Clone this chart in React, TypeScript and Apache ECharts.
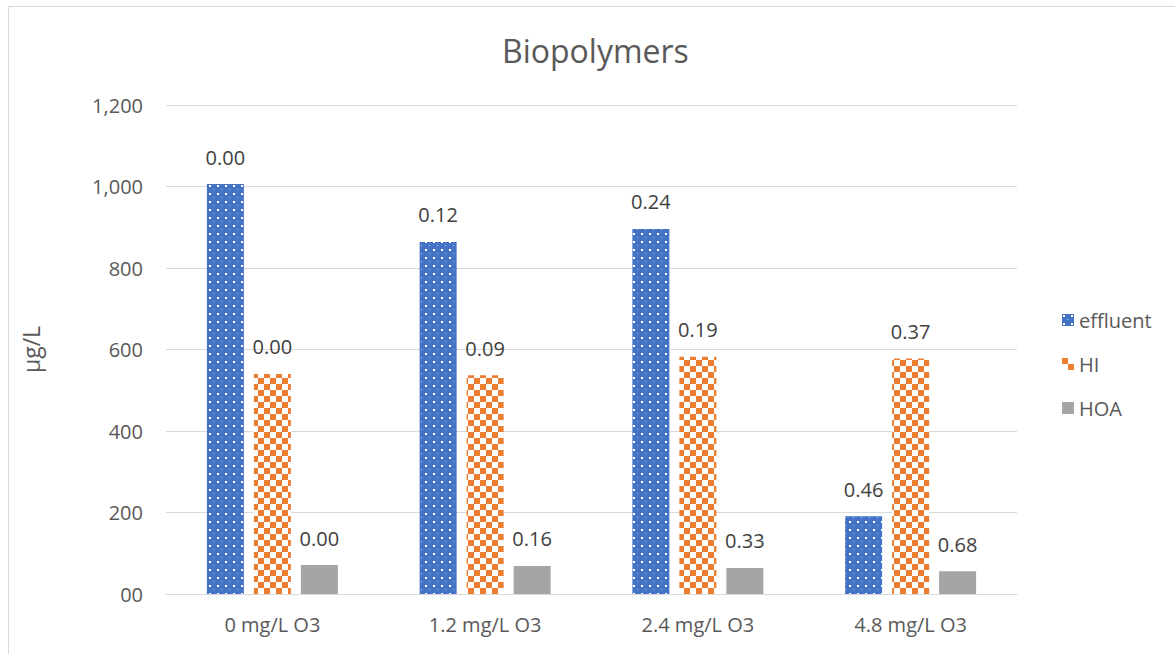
import React, { useEffect, useRef } from "react";
import * as echarts from "echarts";

const categories = ["0 mg/L O3", "1.2 mg/L O3", "2.4 mg/L O3", "4.8 mg/L O3"];
const effluent = [1006, 864, 896, 191];
const hi = [540, 537, 582, 578];
const hoa = [71, 69, 64, 56];
const effluentLabels = ["0.00", "0.12", "0.24", "0.46"];
const hiLabels = ["0.00", "0.09", "0.19", "0.37"];
const hoaLabels = ["0.00", "0.16", "0.33", "0.68"];
const yTicks = [0, 200, 400, 600, 800, 1000, 1200];

function dotPattern(): HTMLCanvasElement {
  const c = document.createElement("canvas");
  c.width = 8;
  c.height = 8;
  const ctx = c.getContext("2d")!;
  ctx.fillStyle = "#4472C4";
  ctx.fillRect(0, 0, 8, 8);
  ctx.fillStyle = "#ffffff";
  ctx.fillRect(1, 1, 2, 2);
  ctx.fillStyle = "rgba(255,255,255,0.6)";
  ctx.fillRect(5, 5, 1, 1);
  return c;
}

function checkerPattern(): HTMLCanvasElement {
  const c = document.createElement("canvas");
  c.width = 12;
  c.height = 12;
  const ctx = c.getContext("2d")!;
  ctx.fillStyle = "#ffffff";
  ctx.fillRect(0, 0, 12, 12);
  ctx.fillStyle = "#ED7D31";
  ctx.fillRect(0, 0, 6, 6);
  ctx.fillRect(6, 6, 6, 6);
  return c;
}

export default function App() {
  const ref = useRef<HTMLDivElement>(null);
  useEffect(() => {
    if (!ref.current) return;
    const chart = echarts.init(ref.current, undefined, { renderer: "svg" });
    const font = "'Open Sans', 'Liberation Sans', sans-serif";
    const labelStyle = (labels: string[]) => ({
      show: true,
      position: "top" as const,
      distance: 17,
      color: "#404040",
      fontSize: 20,
      fontFamily: font,
      formatter: (p: any) => labels[p.dataIndex],
    });
    chart.setOption({
      animation: false,
      backgroundColor: "#ffffff",
      textStyle: { fontFamily: font },
      title: {
        text: "Biopolymers",
        left: 497,
        top: 29,
        textStyle: { fontSize: 32, fontWeight: "normal", color: "#595959", fontFamily: font },
      },
      graphic: [
        {
          type: "rect",
          shape: { x: 8.5, y: 6.5, width: 1200, height: 700 },
          style: { fill: "none", stroke: "#d9d9d9", lineWidth: 1 },
          silent: true,
        },
      ],
      legend: {
        orient: "vertical",
        left: 1057,
        top: 305,
        itemGap: 24,
        itemWidth: 12,
        itemHeight: 12,
        icon: "rect",
        textStyle: { fontSize: 20, color: "#595959", fontFamily: font },
        data: ["effluent", "HI", "HOA"],
      },
      grid: { left: 166, right: 158, top: 105, bottom: 60 },
      xAxis: {
        type: "category",
        data: categories,
        axisLine: { lineStyle: { color: "#d9d9d9" } },
        axisTick: { show: false },
        axisLabel: { color: "#595959", fontSize: 20, margin: 20, fontFamily: font },
      },
      yAxis: {
        type: "value",
        min: yTicks[0],
        max: yTicks[yTicks.length - 1],
        interval: 200,
        name: "μg/L",
        nameLocation: "middle",
        nameGap: 124,
        nameTextStyle: { fontSize: 23, color: "#595959", fontFamily: font },
        axisLine: { show: false },
        axisTick: { show: false },
        splitLine: { lineStyle: { color: "#d9d9d9" } },
        axisLabel: {
          color: "#595959",
          fontSize: 20,
          margin: 23,
          fontFamily: font,
          formatter: (v: number) => (v === 0 ? "00" : v.toLocaleString("en-US")),
        },
      },
      series: [
        {
          name: "effluent",
          type: "bar",
          data: effluent,
          barWidth: 37,
          barGap: "27%",
          itemStyle: { color: { image: dotPattern(), repeat: "repeat" } },
          label: labelStyle(effluentLabels),
        },
        {
          name: "HI",
          type: "bar",
          data: hi,
          barWidth: 37,
          barGap: "27%",
          itemStyle: { color: { image: checkerPattern(), repeat: "repeat" } },
          label: labelStyle(hiLabels),
        },
        {
          name: "HOA",
          type: "bar",
          data: hoa,
          barWidth: 37,
          barGap: "27%",
          itemStyle: { color: "#A5A5A5" },
          label: labelStyle(hoaLabels),
        },
      ],
    });
    return () => chart.dispose();
  }, []);
  return (
    <div
      ref={ref}
      style={{ position: "fixed", left: 0, top: 0, width: 1175, height: 654, background: "#fff" }}
    />
  );
}
